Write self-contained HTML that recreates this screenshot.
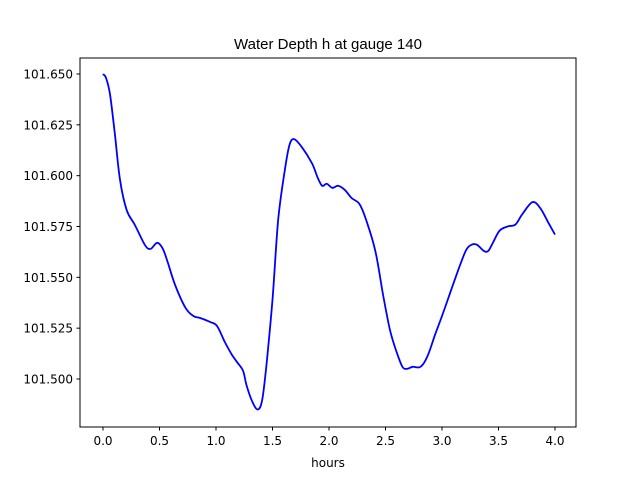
<!DOCTYPE html>
<html><head><meta charset="utf-8"><style>
body{margin:0;background:#fff;}
svg{display:block;font-family:"DejaVu Sans","Liberation Sans",sans-serif;}
</style></head><body>
<svg id="chart" width="640" height="480">
<rect x="0" y="0" width="640" height="480" fill="#fff"/>
<text x="328" y="49" text-anchor="middle" font-size="15" font-family="Liberation Sans, sans-serif">Water Depth h at gauge 140</text>
<g id="ticks"></g>
<path id="line" fill="none" stroke="#0000ff" stroke-width="1.8" stroke-linejoin="round"/>
<rect x="80" y="58" width="496" height="369" fill="none" stroke="#000" stroke-width="1"/>
<text x="328" y="467" text-anchor="middle" font-size="12">hours</text>
</svg>
<script>
const hours=[0,0.027,0.062,0.106,0.15,0.21,0.28,0.37,0.42,0.48,0.53,0.575,0.64,0.73,0.8,0.86,0.95,1.01,1.08,1.14,1.19,1.24,1.27,1.32,1.37,1.41,1.45,1.5,1.55,1.61,1.65,1.69,1.76,1.85,1.9,1.94,1.98,2.03,2.08,2.14,2.2,2.27,2.33,2.41,2.48,2.54,2.6,2.65,2.69,2.74,2.81,2.87,2.94,3.0,3.07,3.14,3.21,3.26,3.31,3.37,3.41,3.45,3.51,3.58,3.65,3.71,3.8,3.87,3.94,4.0];
const depth=[101.650,101.648,101.640,101.620,101.598,101.583,101.576,101.566,101.564,101.567,101.564,101.557,101.546,101.535,101.531,101.530,101.528,101.526,101.518,101.512,101.508,101.504,101.497,101.489,101.485,101.490,101.509,101.539,101.578,101.603,101.615,101.618,101.614,101.606,101.599,101.595,101.596,101.594,101.595,101.593,101.589,101.586,101.578,101.563,101.541,101.524,101.513,101.506,101.505,101.506,101.506,101.511,101.522,101.531,101.542,101.553,101.563,101.566,101.566,101.563,101.563,101.567,101.573,101.575,101.576,101.581,101.587,101.584,101.577,101.571];
const xTicks=[0.0,0.5,1.0,1.5,2.0,2.5,3.0,3.5,4.0];
const yTicks=[101.500,101.525,101.550,101.575,101.600,101.625,101.650];
const xs=v=>103+(v-0)*(555-103)/4;
const ys=v=>74+(101.650-v)*(379-74)/0.15;
const NS="http://www.w3.org/2000/svg";
const g=document.getElementById('ticks');
xTicks.forEach(t=>{
 const l=document.createElementNS(NS,'line');
 l.setAttribute('x1',xs(t));l.setAttribute('x2',xs(t));l.setAttribute('y1',427);l.setAttribute('y2',430.5);l.setAttribute('stroke','#000');
 
 
 g.appendChild(l);
 const tx=document.createElementNS(NS,'text');
 tx.setAttribute('x',xs(t));tx.setAttribute('y',445);tx.setAttribute('text-anchor','middle');tx.setAttribute('font-size','12');
 tx.textContent=t.toFixed(1);
 
 
 g.appendChild(tx);
});
yTicks.forEach(t=>{
 const l=document.createElementNS(NS,'line');
 l.setAttribute('x1',76.5);l.setAttribute('x2',80);l.setAttribute('y1',ys(t));l.setAttribute('y2',ys(t));l.setAttribute('stroke','#000');
 
 
 g.appendChild(l);
 const tx=document.createElementNS(NS,'text');
 tx.setAttribute('x',73);tx.setAttribute('y',ys(t)+4.5);tx.setAttribute('text-anchor','end');tx.setAttribute('font-size','12');
 tx.textContent=t.toFixed(3);
 
 
 g.appendChild(tx);
});
const P=hours.map((h,i)=>[xs(h),ys(depth[i])]);
let d='M'+P[0][0].toFixed(1)+' '+P[0][1].toFixed(1);
for(let i=0;i<P.length-1;i++){
 const p0=P[Math.max(0,i-1)],p1=P[i],p2=P[i+1],p3=P[Math.min(P.length-1,i+2)];
 const c1=[p1[0]+(p2[0]-p0[0])/6,p1[1]+(p2[1]-p0[1])/6];
 const c2=[p2[0]-(p3[0]-p1[0])/6,p2[1]-(p3[1]-p1[1])/6];
 d+=' C'+c1[0].toFixed(1)+' '+c1[1].toFixed(1)+' '+c2[0].toFixed(1)+' '+c2[1].toFixed(1)+' '+p2[0].toFixed(1)+' '+p2[1].toFixed(1);
}
document.getElementById('line').setAttribute('d',d);
</script>
</body></html>
